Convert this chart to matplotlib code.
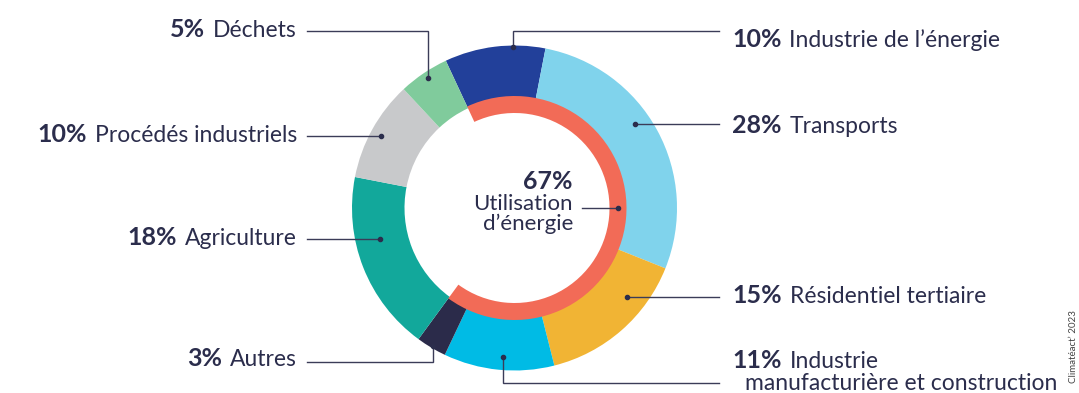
import matplotlib.pyplot as plt

W, H = 1079, 393

# emissions by sector, clockwise from the top
sectors = ["Industrie de l’énergie", "Transports", "Résidentiel tertiaire",
           "Industrie", "Autres", "Agriculture", "Procédés industriels", "Déchets"]
shares = [10, 28, 15, 11, 3, 18, 10, 5]
sector_colors = ["#22409a", "#80d3ec", "#f1b434", "#00bbe5",
                 "#2b2b4a", "#12a89b", "#c8c9cb", "#80cb9c"]
energy_use = [67, 33]
energy_label = "Utilisation\nd’énergie"

# callout layout (pixels from top-left): dot, line height, text baseline
sides = ["right", "right", "right", "right", "left", "left", "left", "left"]
dots = [(513, 47), (635, 124), (627, 297), (503, 357),
        (433, 346), (380, 239), (381, 136), (428, 78)]
line_y = [31, 124, 297, 383, 362, 239, 136, 31]
baselines = [47, 133, 303, 368, 366, 245, 142, 37]

ink = "#2b2d4c"
font = "Lato"
name_size = 16.5
pct_size = 18

fig = plt.figure(figsize=(W / 100, H / 100), dpi=100)
fig.patch.set_facecolor("white")

# donut
cx, cy, R = 514.5, 208, 162.5
ax = fig.add_axes([(cx - R) / W, (H - cy - R) / H, 2 * R / W, 2 * R / H])
ax.pie(shares, colors=sector_colors, startangle=115, counterclock=False,
       radius=1, wedgeprops=dict(width=(R - 110) / R, edgecolor="none", linewidth=0))
ax.pie(energy_use, colors=["#f26b57", "none"], startangle=115, counterclock=False,
       radius=112 / R, wedgeprops=dict(width=17 / R, edgecolor="none", linewidth=0))
ax.set_xlim(-1, 1)
ax.set_ylim(-1, 1)
ax.set_aspect("equal")
ax.axis("off")

# overlay in pixel coordinates for leaders
ov = fig.add_axes([0, 0, 1, 1], zorder=5)
ov.set_xlim(0, W)
ov.set_ylim(H, 0)
ov.axis("off")
ov.patch.set_alpha(0)

renderer = fig.canvas.get_renderer()


def fx(x):
    return x / W


def fy(y):
    return 1 - y / H


for i, name in enumerate(sectors):
    dx, dy = dots[i]
    ly = line_y[i]
    end_x = 719 if sides[i] == "right" else 307
    ov.plot([dx, dx, end_x], [dy, ly, ly], color="#3b3c58", lw=1.0,
            solid_joinstyle="miter")
    ov.plot(dx, dy, "o", color="#2b2d4c", ms=3)

    pct = f"{shares[i]}%"
    if sides[i] == "right":
        t = fig.text(fx(732), fy(baselines[i]), pct, ha="left", va="baseline",
                     fontsize=pct_size, weight="bold", color=ink, family=font)
        bb = t.get_window_extent(renderer)
        fig.text((bb.x1 + 8) / W, fy(baselines[i]), name, ha="left",
                 va="baseline", fontsize=name_size, color=ink, family=font)
    else:
        t = fig.text(fx(297), fy(baselines[i]), name, ha="right", va="baseline",
                     fontsize=name_size, color=ink, family=font)
        bb = t.get_window_extent(renderer)
        fig.text((bb.x0 - 8) / W, fy(baselines[i]), pct, ha="right",
                 va="baseline", fontsize=pct_size, weight="bold", color=ink, family=font)

# second line of the manufacturing label
fig.text(fx(745), fy(390), "manufacturière et construction", ha="left",
         va="baseline", fontsize=name_size, color=ink, family=font)

# centre label for the energy ring
fig.text(fx(573), fy(189), f"{energy_use[0]}%", ha="right", va="baseline",
         fontsize=pct_size, weight="bold", color=ink, family=font)
fig.text(fx(573), fy(230), energy_label, ha="right", va="baseline",
         fontsize=16, color=ink, family=font, linespacing=1.0)
ov.plot([582, 618], [208, 208], color="#3b3c58", lw=1.0)
ov.plot(618, 208, "o", color="#2b2d4c", ms=3)

# credit along the right edge
fig.text(fx(1073), fy(310), "Climatéact’ 2023", rotation=90,
         ha="center", va="top", fontsize=7, color="#444", family=font)

fig.savefig("out.png", dpi=100, facecolor="white")
